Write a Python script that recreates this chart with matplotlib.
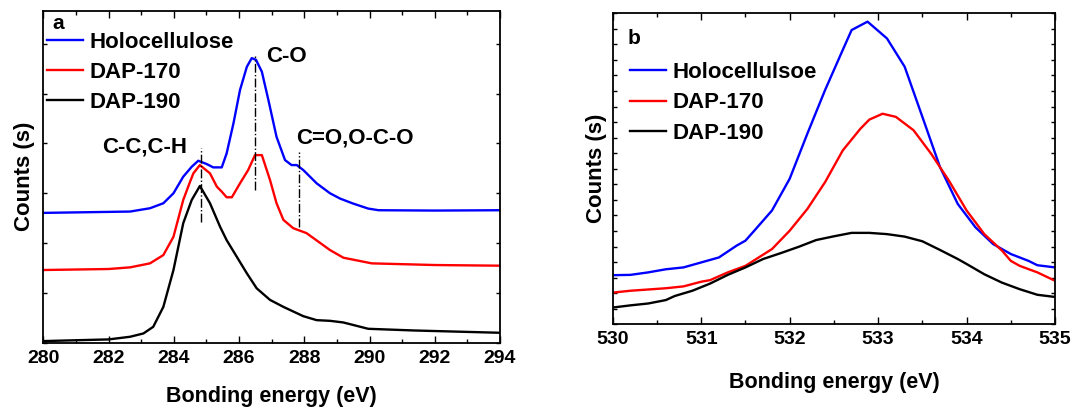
import matplotlib
matplotlib.use("Agg")
import matplotlib.pyplot as plt
from matplotlib.ticker import MultipleLocator, NullFormatter

plt.rcParams['font.family'] = ['Liberation Sans', 'DejaVu Sans']
plt.rcParams['font.weight'] = 'bold'

# ---- Panel a: C1s ----
a_labels = ["Holocellulose", "DAP-170", "DAP-190"]
a_holo_x = [280, 282, 282.66, 283.27, 283.68, 283.99, 284.29, 284.55, 284.75, 285.01, 285.21, 285.47,
            285.62, 285.83, 286.03, 286.24, 286.39, 286.52, 286.70, 286.90, 287.15, 287.41, 287.61,
            287.77, 287.97, 288.38, 288.79, 289.1, 289.5, 289.96, 290.28, 292, 294]
a_holo_y = [0.391, 0.394, 0.395, 0.405, 0.420, 0.450, 0.500, 0.530, 0.548, 0.538, 0.528, 0.528,
            0.570, 0.661, 0.761, 0.831, 0.857, 0.852, 0.816, 0.731, 0.620, 0.550, 0.535,
            0.535, 0.520, 0.480, 0.450, 0.434, 0.419, 0.404, 0.399, 0.398, 0.399]
a_d170_x = [280, 282, 282.66, 283.27, 283.68, 283.99, 284.29, 284.50, 284.6, 284.80, 285.11, 285.32,
            285.47, 285.62, 285.78, 286.03, 286.28, 286.49, 286.70, 286.95, 287.15, 287.36, 287.66,
            288.07, 288.79, 289.2, 290.07, 292, 294]
a_d170_y = [0.219, 0.222, 0.227, 0.239, 0.264, 0.319, 0.430, 0.485, 0.510, 0.535, 0.510, 0.470,
            0.455, 0.438, 0.438, 0.480, 0.520, 0.565, 0.565, 0.490, 0.420, 0.370, 0.345,
            0.330, 0.279, 0.256, 0.239, 0.234, 0.232]
a_d190_x = [280, 282, 282.66, 283.07, 283.37, 283.68, 283.99, 284.29, 284.55, 284.80, 285.11, 285.42,
            285.62, 285.93, 286.24, 286.54, 286.95, 287.36, 287.97, 288.38, 288.79, 289.2, 289.96,
            291.34, 294]
a_d190_y = [0.005, 0.010, 0.018, 0.028, 0.048, 0.108, 0.219, 0.360, 0.430, 0.472, 0.420, 0.349,
            0.309, 0.259, 0.209, 0.164, 0.129, 0.108, 0.080, 0.068, 0.066, 0.061, 0.042,
            0.037, 0.030]
a_peak_x = [284.82, 286.5, 287.84]
a_peak_lo = [0.365, 0.460, 0.349]
a_peak_hi = [0.586, 0.864, 0.575]
a_peak_names = ["C-C,C-H", "C-O", "C=O,O-C-O"]

# ---- Panel b: O1s ----
b_labels = ["Holocellulsoe", "DAP-170", "DAP-190"]
b_holo_x = [530.0, 530.2, 530.4, 530.6, 530.8, 531.0, 531.2, 531.4, 531.5, 531.6, 531.8, 532.0,
            532.2, 532.4, 532.6, 532.7, 532.88, 533.1, 533.3, 533.5, 533.7, 533.9, 534.1, 534.3,
            534.5, 534.7, 534.8, 535.0]
b_holo_y = [0.158, 0.159, 0.167, 0.177, 0.183, 0.199, 0.215, 0.253, 0.269, 0.301, 0.366, 0.468,
            0.613, 0.753, 0.882, 0.946, 0.973, 0.919, 0.828, 0.667, 0.505, 0.387, 0.312, 0.258,
            0.226, 0.204, 0.190, 0.183]
b_d170_x = [530.0, 530.2, 530.4, 530.6, 530.8, 531.0, 531.1, 531.3, 531.5, 531.8, 532.0, 532.2,
            532.4, 532.6, 532.8, 532.9, 533.05, 533.2, 533.4, 533.6, 533.8, 534.0, 534.2, 534.4,
            534.5, 534.6, 534.8, 535.0]
b_d170_y = [0.102, 0.108, 0.112, 0.116, 0.122, 0.137, 0.142, 0.167, 0.188, 0.242, 0.301, 0.371,
            0.457, 0.559, 0.629, 0.658, 0.677, 0.667, 0.624, 0.548, 0.462, 0.366, 0.290, 0.237,
            0.204, 0.188, 0.167, 0.140]
b_d190_x = [530.0, 530.2, 530.4, 530.6, 530.7, 530.9, 531.1, 531.3, 531.5, 531.7, 531.9, 532.1,
            532.3, 532.5, 532.7, 532.9, 533.1, 533.3, 533.5, 533.7, 533.9, 534.0, 534.2, 534.4,
            534.6, 534.8, 535.0]
b_d190_y = [0.054, 0.061, 0.067, 0.078, 0.091, 0.108, 0.131, 0.159, 0.183, 0.210, 0.229, 0.249,
            0.271, 0.283, 0.294, 0.294, 0.290, 0.282, 0.267, 0.239, 0.210, 0.194, 0.161, 0.134,
            0.113, 0.095, 0.088]

colors = ["#0000ff", "#ff0000", "#000000"]
TICK_FS = 14
TXT_FS = 16
LAB_FS = 15.5

fig = plt.figure(figsize=(10.72, 4.09), dpi=100)
axa = fig.add_axes([0.0404, 0.162, 0.426, 0.812])
axb = fig.add_axes([0.5716, 0.207, 0.4126, 0.7606])

def style(ax, yminor):
    for s in ax.spines.values():
        s.set_linewidth(1.3)
    ax.tick_params(which='both', direction='in', top=True, right=True, width=1.0)
    ax.tick_params(axis='x', which='major', length=5, labelsize=TICK_FS, pad=5)
    ax.tick_params(axis='x', which='minor', length=3)
    ax.tick_params(axis='y', which='major', length=3)
    ax.yaxis.set_major_locator(MultipleLocator(yminor))
    ax.yaxis.set_major_formatter(NullFormatter())
    for t in ax.get_xticklabels():
        t.set_fontweight('bold')

# panel a
for xs, ys, c, lab in zip([a_holo_x, a_d170_x, a_d190_x], [a_holo_y, a_d170_y, a_d190_y], colors, a_labels):
    axa.plot(xs, ys, color=c, lw=1.7, label=lab)
for px, lo, hi in zip(a_peak_x, a_peak_lo, a_peak_hi):
    axa.vlines(px, lo, hi, colors='black', linestyles='dashdot', lw=1.0)
axa.text(283.1, 0.59, a_peak_names[0], ha='center', va='center', fontsize=TXT_FS, fontweight='bold')
axa.text(286.84, 0.862, a_peak_names[1], ha='left', va='center', fontsize=TXT_FS, fontweight='bold')
axa.text(287.75, 0.615, a_peak_names[2], ha='left', va='center', fontsize=TXT_FS, fontweight='bold')
axa.text(280.45, 0.962, "a", ha='center', va='center', fontsize=15, fontweight='bold')
axa.set_xlim(280, 294)
axa.set_ylim(0, 1)
axa.xaxis.set_major_locator(MultipleLocator(2))
axa.xaxis.set_minor_locator(MultipleLocator(1))
axa.set_xlabel("Bonding energy (eV)", fontsize=LAB_FS, fontweight='bold', labelpad=14)
axa.set_ylabel("Counts (s)", fontsize=TXT_FS, fontweight='bold', labelpad=2.5)
axa.legend(loc='upper left', bbox_to_anchor=(0.008, 0.937), frameon=False,
           handlelength=1.6, handletextpad=0.3, labelspacing=0.42, borderaxespad=0, borderpad=0,
           prop={'size': TXT_FS, 'weight': 'bold'})
style(axa, 0.15)

# panel b
for xs, ys, c, lab in zip([b_holo_x, b_d170_x, b_d190_x], [b_holo_y, b_d170_y, b_d190_y], colors, b_labels):
    axb.plot(xs, ys, color=c, lw=1.7, label=lab)
axb.text(530.235, 0.919, "b", ha='center', va='center', fontsize=15, fontweight='bold')
axb.set_xlim(530, 535)
axb.set_ylim(0, 1)
axb.xaxis.set_major_locator(MultipleLocator(1))
axb.xaxis.set_minor_locator(MultipleLocator(0.5))
axb.set_xlabel("Bonding energy (eV)", fontsize=LAB_FS, fontweight='bold', labelpad=17)
axb.set_ylabel("Counts (s)", fontsize=TXT_FS, fontweight='bold', labelpad=1)
axb.legend(loc='upper left', bbox_to_anchor=(0.039, 0.843), frameon=False,
           handlelength=1.6, handletextpad=0.3, labelspacing=0.42, borderaxespad=0, borderpad=0,
           prop={'size': TXT_FS, 'weight': 'bold'})
style(axb, 0.05)

fig.savefig("out.png", dpi=100)
